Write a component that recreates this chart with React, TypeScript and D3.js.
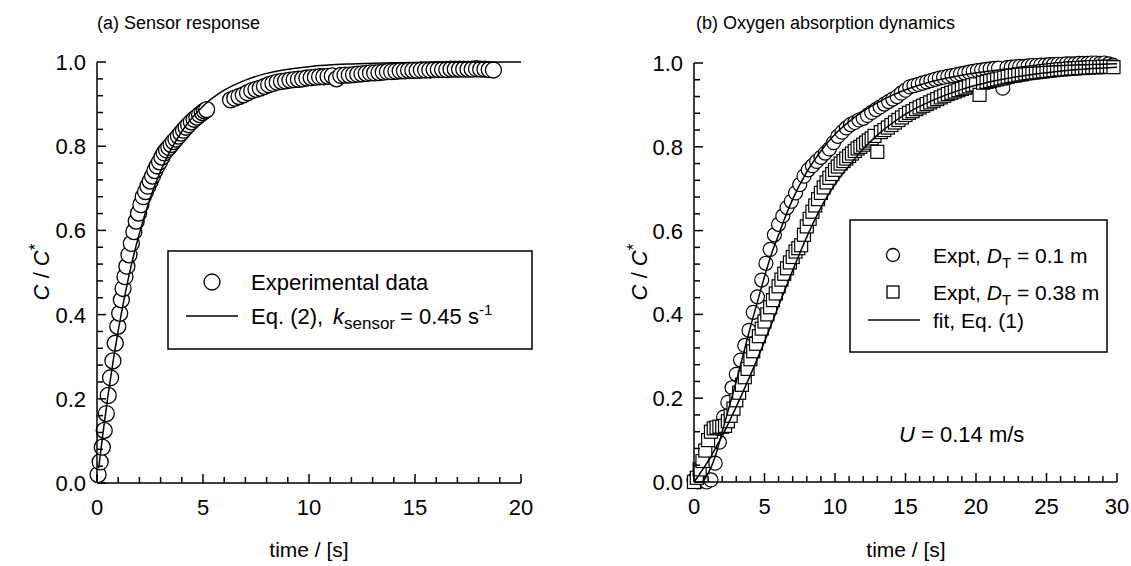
import React from 'react';
import * as d3 from 'd3';

// (a) sensor step response: [time s, C/C*]
const sensorData: [number, number][] = [
  [0.05, 0.02], [0.15, 0.05], [0.25, 0.085], [0.34, 0.125], [0.44, 0.165], [0.53, 0.208],
  [0.64, 0.25], [0.75, 0.29], [0.86, 0.332], [0.98, 0.372], [1.07, 0.403], [1.15, 0.435],
  [1.23, 0.462], [1.32, 0.49], [1.41, 0.515], [1.51, 0.542], [1.62, 0.569], [1.74, 0.597],
  [1.85, 0.622], [1.96, 0.641], [2.07, 0.661], [2.18, 0.68], [2.29, 0.692], [2.4, 0.705],
  [2.51, 0.717], [2.62, 0.729], [2.73, 0.742], [2.84, 0.753], [2.95, 0.763], [3.06, 0.774],
  [3.17, 0.784], [3.28, 0.791], [3.39, 0.797], [3.5, 0.804], [3.61, 0.811], [3.72, 0.817],
  [3.84, 0.824], [3.96, 0.831], [4.08, 0.838], [4.2, 0.845], [4.32, 0.851], [4.45, 0.858],
  [4.58, 0.864], [4.71, 0.869], [4.84, 0.875], [4.97, 0.88], [5.07, 0.884], [5.17, 0.887],
  [6.3, 0.91], [6.5, 0.914], [6.7, 0.918], [6.9, 0.922], [7.1, 0.927], [7.3, 0.932],
  [7.5, 0.935], [7.7, 0.938], [7.9, 0.942], [8.1, 0.946], [8.3, 0.949], [8.5, 0.952],
  [8.7, 0.954], [8.9, 0.955], [9.1, 0.957], [9.3, 0.958], [9.5, 0.959], [9.7, 0.96],
  [9.9, 0.962], [10.1, 0.963], [10.3, 0.964], [10.5, 0.965], [10.7, 0.965], [10.9, 0.966],
  [11.1, 0.967], [11.3, 0.96], [11.5, 0.968], [11.7, 0.969], [11.9, 0.969], [12.1, 0.97],
  [12.3, 0.971], [12.5, 0.972], [12.7, 0.973], [12.9, 0.974], [13.1, 0.974], [13.3, 0.975],
  [13.5, 0.976], [13.7, 0.977], [13.9, 0.977], [14.1, 0.978], [14.3, 0.979], [14.5, 0.979],
  [14.7, 0.98], [14.9, 0.98], [15.1, 0.98], [15.3, 0.981], [15.5, 0.981], [15.7, 0.981],
  [15.9, 0.982], [16.1, 0.982], [16.3, 0.982], [16.5, 0.982], [16.7, 0.983], [16.9, 0.983],
  [17.1, 0.983], [17.3, 0.983], [17.5, 0.983], [17.7, 0.983], [17.9, 0.984], [18.1, 0.983],
  [18.3, 0.983], [18.5, 0.982], [18.7, 0.981],
];

// Eq. (2), k_sensor = 0.45 1/s
const sensorFit: [number, number][] = [
  [0.08, 0.035], [0.25, 0.106], [0.5, 0.201], [0.75, 0.286], [1, 0.362], [1.5, 0.491],
  [2, 0.593], [2.5, 0.675], [3, 0.741], [3.5, 0.793], [4, 0.835], [5, 0.895], [6, 0.933],
  [7, 0.957], [8, 0.973], [10, 0.989], [12, 0.9955], [14, 0.998], [17, 0.9995], [20, 1.0],
];

// (b) D_T = 0.1 m (circles)
const smallTank: [number, number][] = [
  [0, 0.005], [0.3, 0], [0.6, 0.003], [0.9, 0], [1.2, 0.005], [1.5, 0.045], [1.8, 0.095],
  [2.1, 0.155], [2.4, 0.19], [2.7, 0.225], [3.0, 0.257], [3.3, 0.291], [3.6, 0.326],
  [3.9, 0.362], [4.2, 0.405], [4.5, 0.442], [4.8, 0.482], [5.1, 0.522], [5.4, 0.555],
  [5.7, 0.59], [6.0, 0.615], [6.3, 0.635], [6.6, 0.655], [6.9, 0.67], [7.2, 0.69],
  [7.5, 0.71], [7.8, 0.73], [8.1, 0.745], [8.4, 0.755], [8.7, 0.765], [9.0, 0.775],
  [9.3, 0.785], [9.6, 0.795], [9.9, 0.81], [10.2, 0.825], [10.5, 0.835], [10.8, 0.845],
  [11.1, 0.853], [11.4, 0.858], [11.7, 0.864], [12.0, 0.868], [12.3, 0.875], [12.6, 0.882],
  [12.9, 0.889], [13.2, 0.895], [13.5, 0.902], [13.8, 0.908], [14.1, 0.914], [14.4, 0.92],
  [14.7, 0.928], [15.0, 0.935], [15.3, 0.943], [15.6, 0.946], [15.9, 0.949], [16.2, 0.952],
  [16.5, 0.955], [16.8, 0.958], [17.1, 0.961], [17.4, 0.964], [17.7, 0.966], [18.0, 0.968],
  [18.3, 0.97], [18.6, 0.972], [18.9, 0.974], [19.2, 0.976], [19.5, 0.978], [19.8, 0.98],
  [20.1, 0.982], [20.4, 0.983], [20.7, 0.985], [21.0, 0.986], [21.3, 0.987], [21.6, 0.988],
  [21.9, 0.94], [22.2, 0.989], [22.5, 0.99], [22.8, 0.991], [23.1, 0.992], [23.4, 0.992],
  [23.7, 0.993], [24.0, 0.994], [24.3, 0.994], [24.6, 0.995], [24.9, 0.995], [25.2, 0.996],
  [25.5, 0.996], [25.8, 0.997], [26.1, 0.997], [26.4, 0.998], [26.7, 0.998], [27.0, 0.998],
  [27.3, 0.999], [27.6, 0.999], [27.9, 0.999], [28.2, 1.0], [28.5, 1.0], [28.8, 0.999],
  [29.1, 1.0], [29.4, 0.998], [29.7, 0.995],
];

// (b) D_T = 0.38 m (squares)
const largeTank: [number, number][] = [
  [0, 0], [0.2, 0.01], [0.4, 0.03], [0.6, 0.05], [0.8, 0.075], [1.0, 0.1], [1.2, 0.12],
  [1.4, 0.128], [1.6, 0.13], [1.8, 0.132], [2.0, 0.132], [2.2, 0.134], [2.4, 0.145],
  [2.6, 0.158], [2.8, 0.175], [3.0, 0.195], [3.2, 0.213], [3.4, 0.232], [3.6, 0.25],
  [3.8, 0.27], [4.0, 0.293], [4.2, 0.312], [4.4, 0.33], [4.6, 0.348], [4.8, 0.366],
  [5.0, 0.383], [5.2, 0.4], [5.4, 0.417], [5.6, 0.434], [5.8, 0.45], [6.0, 0.467],
  [6.2, 0.483], [6.4, 0.497], [6.6, 0.51], [6.8, 0.524], [7.0, 0.537], [7.2, 0.55],
  [7.4, 0.558], [7.6, 0.565], [7.8, 0.59], [8.0, 0.61], [8.2, 0.628], [8.4, 0.645],
  [8.6, 0.66], [8.8, 0.675], [9.0, 0.69], [9.2, 0.703], [9.4, 0.715], [9.6, 0.726],
  [9.8, 0.735], [10.0, 0.745], [10.2, 0.753], [10.4, 0.76], [10.6, 0.766], [10.8, 0.772],
  [11.0, 0.778], [11.2, 0.784], [11.4, 0.79], [11.6, 0.796], [11.8, 0.8], [12.0, 0.805],
  [12.2, 0.81], [12.4, 0.815], [12.6, 0.82], [12.8, 0.826], [13.0, 0.788], [13.25, 0.835],
  [13.5, 0.84], [13.75, 0.846], [14.0, 0.852], [14.25, 0.858], [14.5, 0.864], [14.75, 0.87],
  [15.0, 0.876], [15.25, 0.881], [15.5, 0.885], [15.75, 0.89], [16.0, 0.894], [16.25, 0.898],
  [16.5, 0.902], [16.75, 0.906], [17.0, 0.91], [17.25, 0.914], [17.5, 0.918], [17.75, 0.922],
  [18.0, 0.926], [18.25, 0.929], [18.5, 0.932], [18.75, 0.935], [19.0, 0.938], [19.25, 0.941],
  [19.5, 0.944], [19.75, 0.947], [20.0, 0.949], [20.25, 0.924], [20.5, 0.953], [20.75, 0.955],
  [21.0, 0.957], [21.25, 0.959], [21.5, 0.961], [21.75, 0.963], [22.0, 0.965], [22.25, 0.967],
  [22.5, 0.969], [22.75, 0.97], [23.0, 0.972], [23.25, 0.973], [23.5, 0.975], [23.75, 0.976],
  [24.0, 0.977], [24.25, 0.978], [24.5, 0.979], [24.75, 0.98], [25.0, 0.981], [25.25, 0.982],
  [25.5, 0.983], [25.75, 0.984], [26.0, 0.985], [26.25, 0.985], [26.5, 0.986], [26.75, 0.987],
  [27.0, 0.987], [27.25, 0.988], [27.5, 0.988], [27.75, 0.989], [28.0, 0.989], [28.25, 0.99],
  [28.5, 0.99], [28.75, 0.99], [29.0, 0.991], [29.25, 0.991], [29.5, 0.991], [29.75, 0.99],
];

// fit, Eq. (1)
const smallFit: [number, number][] = [
  [0.6, 0], [1, 0.02], [1.5, 0.06], [2, 0.12], [2.5, 0.18], [3, 0.24], [3.5, 0.305],
  [4, 0.37], [4.5, 0.43], [5, 0.49], [5.5, 0.545], [6, 0.59], [6.5, 0.635], [7, 0.675],
  [8, 0.74], [9, 0.79], [10, 0.83], [11, 0.86], [12, 0.885], [13, 0.905], [14, 0.922],
  [15, 0.936], [17, 0.957], [19, 0.971], [21, 0.981], [23, 0.988], [25, 0.992], [27, 0.995],
  [30, 0.998],
];
const largeFit: [number, number][] = [
  [0, 0], [1, 0.05], [2, 0.11], [3, 0.18], [4, 0.255], [5, 0.335], [6, 0.42], [7, 0.505],
  [8, 0.585], [9, 0.655], [10, 0.71], [11, 0.755], [12, 0.795], [13, 0.828], [14, 0.855],
  [15, 0.878], [17, 0.912], [19, 0.937], [21, 0.955], [23, 0.968], [25, 0.977], [27, 0.984],
  [30, 0.99],
];

const xTicksA = [0, 5, 10, 15, 20];
const xTicksB = [0, 5, 10, 15, 20, 25, 30];
const yTicks = [0, 0.2, 0.4, 0.6, 0.8, 1.0];

const FONT = '"Liberation Sans", Arial, Helvetica, sans-serif';

type Scale = d3.ScaleLinear<number, number>;

function Axes({ x, y, xTicks }: { x: Scale; y: Scale; xTicks: number[] }) {
  const xMax = xTicks[xTicks.length - 1];
  const xMinor = d3.range(0, xMax + 0.001, 1).filter(v => v % 5 !== 0);
  const yMinor = d3.range(0, 1.001, 0.04).filter(v => Math.abs(v * 5 - Math.round(v * 5)) > 1e-6);
  const x0 = x(0), y0 = y(0);
  return (
    <g stroke="#000" strokeWidth={1.5} fill="none">
      <line x1={x0} x2={x0} y1={y0} y2={y(1)} />
      <line x1={x0} x2={x(xMax)} y1={y0} y2={y0} />
      {xTicks.map(t => <line key={'xm' + t} x1={x(t)} x2={x(t)} y1={y0} y2={y0 - 9} />)}
      {xMinor.map(t => <line key={'xn' + t} x1={x(t)} x2={x(t)} y1={y0} y2={y0 - 6} />)}
      {yTicks.map(t => <line key={'ym' + t} x1={x0} x2={x0 + 9} y1={y(t)} y2={y(t)} />)}
      {yMinor.map(t => <line key={'yn' + t} x1={x0} x2={x0 + 6} y1={y(t)} y2={y(t)} />)}
      <g stroke="none" fill="#000" fontSize={22} fontFamily={FONT}>
        {xTicks.map(t => (
          <text key={'xl' + t} x={x(t)} y={y0 + 32} textAnchor="middle">{t}</text>
        ))}
        {yTicks.map(t => (
          <text key={'yl' + t} x={x0 - 11} y={y(t) + 8} textAnchor="end">{d3.format('.1f')(t)}</text>
        ))}
      </g>
    </g>
  );
}

function YTitle({ cx, cy }: { cx: number; cy: number }) {
  return (
    <text transform={`translate(${cx},${cy}) rotate(-90)`} textAnchor="middle" fontSize={22} fontFamily={FONT}>
      <tspan fontStyle="italic">C</tspan> / <tspan fontStyle="italic">C</tspan>
      <tspan fontSize={17} dy={-8}>*</tspan>
    </text>
  );
}

export default function App() {
  const xA = d3.scaleLinear().domain([0, 20]).range([97, 521]);
  const yA = d3.scaleLinear().domain([0, 1]).range([483, 62]);
  const xB = d3.scaleLinear().domain([0, 30]).range([694, 1117]);
  const yB = d3.scaleLinear().domain([0, 1]).range([482, 63]);

  const lineA = d3.line<[number, number]>().x(d => xA(d[0])).y(d => yA(d[1])).curve(d3.curveMonotoneX);
  const lineB = d3.line<[number, number]>().x(d => xB(d[0])).y(d => yB(d[1])).curve(d3.curveMonotoneX);

  return (
    <svg width={1131} height={566} style={{ position: 'absolute', left: 0, top: 0, background: '#fff' }}
      fontFamily={FONT}>
      {/* panel (a) */}
      <text x={97} y={29} fontSize={18}>(a) Sensor response</text>
      <g fill="#fff" stroke="#000" strokeWidth={1.3}>
        {sensorData.map((d, i) => <circle key={i} cx={xA(d[0])} cy={yA(d[1])} r={8} />)}
      </g>
      <path d={lineA(sensorFit) || ''} fill="none" stroke="#000" strokeWidth={1.5} />
      <Axes x={xA} y={yA} xTicks={xTicksA} />
      <YTitle cx={49} cy={272} />
      <text x={309} y={557} textAnchor="middle" fontSize={21}>time / [s]</text>

      <g>
        <rect x={168} y={251} width={364} height={98} fill="#fff" stroke="#000" strokeWidth={1.5} />
        <circle cx={212} cy={282} r={8} fill="#fff" stroke="#000" strokeWidth={1.3} />
        <text x={251} y={290} fontSize={22}>Experimental data</text>
        <line x1={186} x2={238} y1={316} y2={316} stroke="#000" strokeWidth={1.5} />
        <text x={251} y={324} fontSize={22}>
          Eq. (2), <tspan x={333} fontStyle="italic">k</tspan>
          <tspan fontSize={17} dy={5}>sensor</tspan>
          <tspan x={400} dy={-5}>= 0.45 s</tspan>
          <tspan fontSize={15} dy={-9}>-1</tspan>
        </text>
      </g>

      {/* panel (b) */}
      <text x={696} y={29} fontSize={18}>(b) Oxygen absorption dynamics</text>
      <g fill="#fff" stroke="#000" strokeWidth={1.2}>
        {smallTank.map((d, i) => <circle key={i} cx={xB(d[0])} cy={yB(d[1])} r={7} />)}
      </g>
      <g fill="#fff" stroke="#000" strokeWidth={1.2}>
        {largeTank.map((d, i) => <rect key={i} x={xB(d[0]) - 6.5} y={yB(d[1]) - 6.5} width={13} height={13} />)}
      </g>
      <path d={lineB(smallFit) || ''} fill="none" stroke="#000" strokeWidth={1.5} />
      <path d={lineB(largeFit) || ''} fill="none" stroke="#000" strokeWidth={1.5} />
      <Axes x={xB} y={yB} xTicks={xTicksB} />
      <YTitle cx={647} cy={272} />
      <text x={906} y={557} textAnchor="middle" fontSize={21}>time / [s]</text>

      <g>
        <rect x={850} y={220} width={257} height={132} fill="#fff" stroke="#000" strokeWidth={1.5} />
        <circle cx={893} cy={255} r={6.5} fill="#fff" stroke="#000" strokeWidth={1.3} />
        <text x={933} y={263} fontSize={21}>
          Expt, <tspan fontStyle="italic">D</tspan>
          <tspan fontSize={15} dy={5}>T</tspan>
          <tspan dy={-5}> = 0.1 m</tspan>
        </text>
        <rect x={887} y={286} width={12} height={12} fill="#fff" stroke="#000" strokeWidth={1.3} />
        <text x={933} y={300} fontSize={21}>
          Expt, <tspan fontStyle="italic">D</tspan>
          <tspan fontSize={15} dy={5}>T</tspan>
          <tspan dy={-5}> = 0.38 m</tspan>
        </text>
        <line x1={868} x2={920} y1={320} y2={320} stroke="#000" strokeWidth={1.5} />
        <text x={933} y={328} fontSize={21}>fit, Eq. (1)</text>
      </g>
      <text x={899} y={442} fontSize={22}>
        <tspan fontStyle="italic">U</tspan> = 0.14 m/s
      </text>
    </svg>
  );
}
